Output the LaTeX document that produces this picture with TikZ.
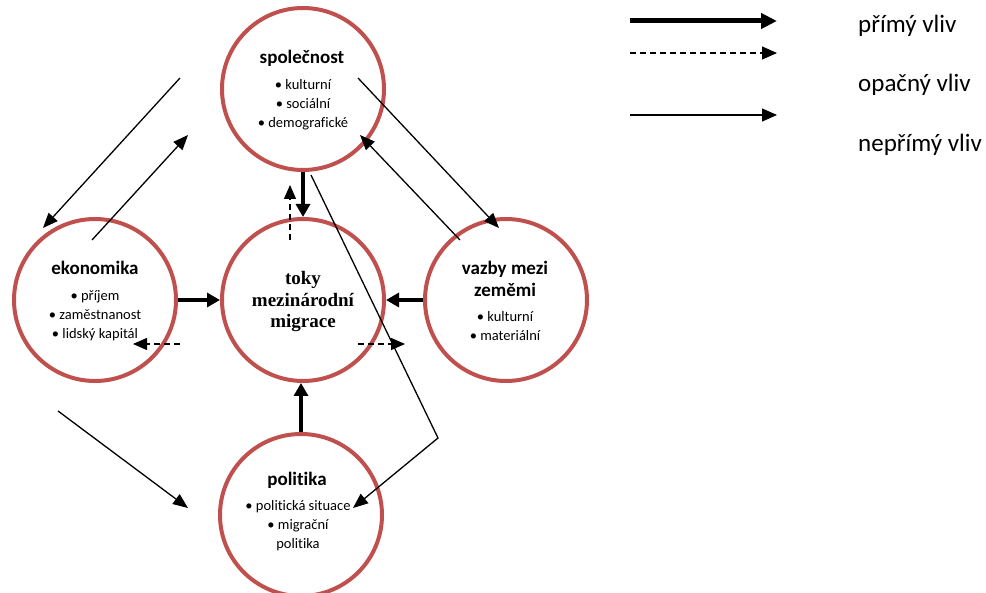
\documentclass[tikz,border=0pt]{standalone}
\usepackage{fontspec}
\setmainfont{Carlito}[RawFeature={-liga,-clig,-calt,-dlig}]
\newfontfamily\tokyfont{Liberation Serif}
\usetikzlibrary{arrows.meta}
\definecolor{ringred}{RGB}{192,80,77}
\begin{document}
\begin{tikzpicture}[x=1pt,y=-1pt,
  ring/.style={circle,draw=ringred,line width=4pt,fill=white,minimum size=162pt,inner sep=0pt},
  head/.style={font=\fontsize{19}{22}\selectfont\bfseries,align=center,inner sep=0pt},
  item/.style={font=\fontsize{14.5}{19}\selectfont,align=center,inner sep=0pt},
  tokytext/.style={font=\fontsize{19}{21.5}\selectfont\tokyfont\bfseries,align=center,inner sep=0pt},
  legtext/.style={font=\fontsize{25}{28}\selectfont,anchor=base west,inner sep=0pt},
  thickarr/.style={line width=4.5pt,-{Triangle[length=13pt,width=14pt]}},
  dasharr/.style={line width=1.3pt,dash pattern=on 6pt off 4pt,-{Triangle[length=14pt,width=12pt]}},
  thinarr/.style={line width=1.3pt,-{Triangle[length=15pt,width=12pt]}}
]
\useasboundingbox (0,0) rectangle (986,593);

% circles
\node[ring] (spol) at (303,89) {};
\node[ring] (toky) at (303,300) {};
\node[ring] (eko) at (95,300) {};
\node[ring] (vaz) at (506,300) {};
\node[ring] (pol) at (301,515) {};

% texts
\node[head] (spolh) at (302,58) {společnost};
\node[item] (spoli) at (303,105) {• kulturní\\• sociální\\• demografické};
\node[tokytext] (tokyt) at (303,302) {toky\\mezinárodní\\migrace};
\node[head] (ekoh) at (95,268) {ekonomika};
\node[item] (ekoi) at (95,316) {• příjem\\• zaměstnanost\\• lidský kapitál};
\node[head] (vazh) at (505,279) {vazby mezi\\zeměmi};
\node[item] (vazi) at (505,326) {• kulturní\\• materiální};
\node[head] (polh) at (297,480) {politika};
\node[item] (poli) at (298,526) {• politická situace\\• migrační\\politika};

% direct influences
\draw[thickarr] (spol.south) -- (spol.south |- toky.north);
\draw[thickarr] (eko.east) -- (toky.west);
\draw[thickarr] (vaz.west) -- (toky.east);
\draw[thickarr] (pol.north) -- (pol.north |- toky.south);

% opposite influences
\coordinate (d1a) at (290,240); \coordinate (d1b) at (290,185);
\coordinate (d2a) at (180,344); \coordinate (d2b) at (133,344);
\coordinate (d3a) at (358,344); \coordinate (d3b) at (405,344);
\draw[dasharr] (d1a) -- (d1b);
\draw[dasharr] (d2a) -- (d2b);
\draw[dasharr] (d3a) -- (d3b);

% indirect influences
\coordinate (i1a) at (180,78);  \coordinate (i1b) at (43,228);
\coordinate (i2a) at (92,240);  \coordinate (i2b) at (188,135);
\coordinate (i3a) at (58,411);  \coordinate (i3b) at (188,508);
\coordinate (i4a) at (358,78);  \coordinate (i4b) at (499,228);
\coordinate (i5a) at (460,240); \coordinate (i5b) at (360,135);
\coordinate (i6a) at (311,175); \coordinate (i6c) at (438,438); \coordinate (i6b) at (353,508);
\draw[thinarr] (i1a) -- (i1b);
\draw[thinarr] (i2a) -- (i2b);
\draw[thinarr] (i3a) -- (i3b);
\draw[thinarr] (i4a) -- (i4b);
\draw[thinarr] (i5a) -- (i5b);
\draw[thinarr] (i6a) -- (i6c) -- (i6b);

% legend
\coordinate (l1a) at (630,21);  \coordinate (l1b) at (777,21);
\coordinate (l2a) at (630,53);  \coordinate (l2b) at (777,53);
\coordinate (l3a) at (630,115); \coordinate (l3b) at (777,115);
\draw[line width=5pt,-{Triangle[length=16pt,width=15pt]}] (l1a) -- (l1b);
\draw[dasharr,-{Triangle[length=15pt,width=13pt]}] (l2a) -- (l2b);
\draw[thinarr,-{Triangle[length=15pt,width=13pt]}] (l3a) -- (l3b);
\node[legtext] (lt1) at (858,33) {přímý vliv};
\node[legtext] (lt2) at (858,92) {opačný vliv};
\node[legtext] (lt3) at (858,152) {nepřímý vliv};
\end{tikzpicture}
\end{document}
